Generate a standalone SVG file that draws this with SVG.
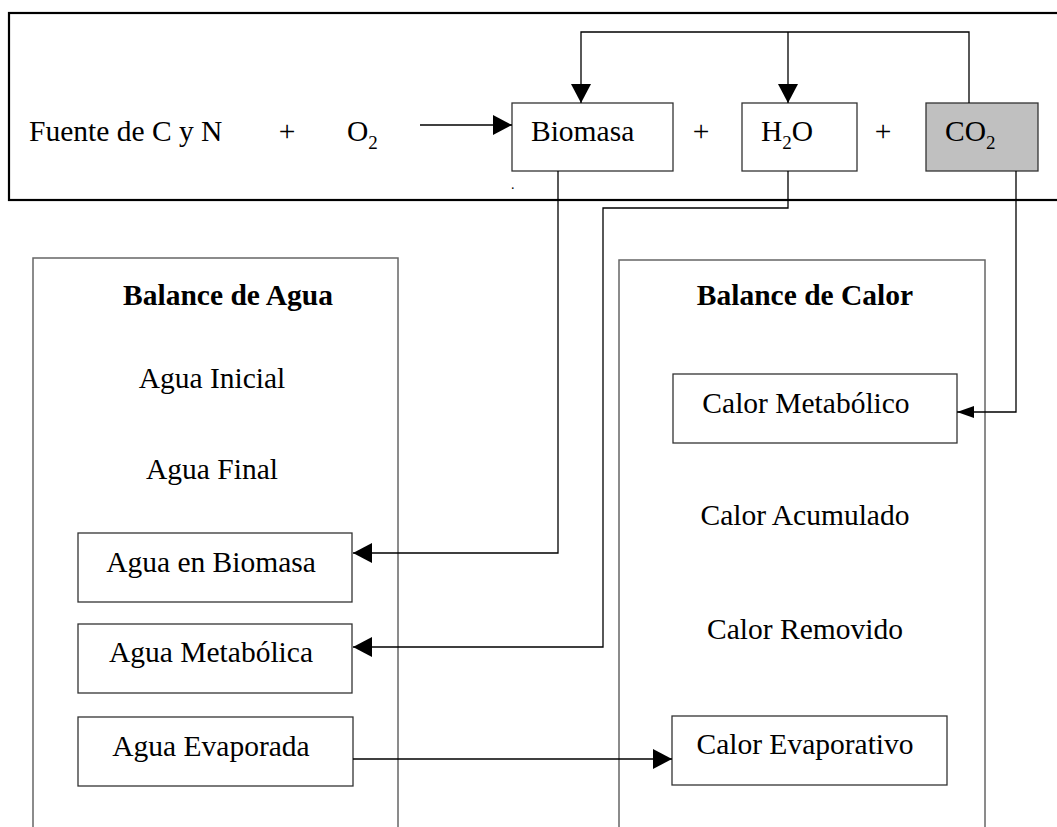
<svg xmlns="http://www.w3.org/2000/svg" width="1057" height="827" viewBox="0 0 1057 827">
  <style>
    text { font-family: "Liberation Serif", "Times New Roman", serif; font-size: 29.5px; fill: #000; }
    .sub { font-size: 19px; }
    .title { font-weight: bold; }
    .mid { text-anchor: middle; }
    .box { fill: #fff; stroke: #333; stroke-width: 1.3; }
    .gray { fill: #c0c0c0; }
    .panel { fill: none; stroke: #666; stroke-width: 1.5; }
    .frame { fill: none; stroke: #000; stroke-width: 2.2; }
    .link { fill: none; stroke: #000; stroke-width: 1.3; }
  </style>
  <defs>
    <marker id="arrow" markerUnits="userSpaceOnUse" markerWidth="20" markerHeight="20" refX="19" refY="10" orient="auto">
      <path d="M0,0 L19,10 L0,20 Z" fill="#000"/>
    </marker>
    <marker id="arrow-small" markerUnits="userSpaceOnUse" markerWidth="17" markerHeight="12" refX="17" refY="6" orient="auto">
      <path d="M0,0 L17,6 L0,12 Z" fill="#000"/>
    </marker>
  </defs>

  <!-- reaction frame -->
  <g id="reaction">
    <rect class="frame" x="9" y="13" width="1070" height="187"/>
    <text x="29" y="141">Fuente de C y N</text>
    <text class="mid" x="287" y="141">+</text>
    <text x="347" y="141">O<tspan class="sub" dy="8">2</tspan></text>
    <text class="mid" x="701" y="141">+</text>
    <text class="mid" x="883" y="141">+</text>
    <text x="511" y="189" style="font-size:14px">.</text>
  </g>

  <g id="biomasa">
    <rect class="box" x="512" y="103" width="161" height="68"/>
    <text x="531" y="141">Biomasa</text>
  </g>

  <g id="agua">
    <rect class="box" x="742" y="103" width="115" height="68"/>
    <text x="761" y="141">H<tspan class="sub" dy="8">2</tspan><tspan dy="-8">O</tspan></text>
  </g>

  <g id="co2">
    <rect class="box gray" x="926" y="103" width="112" height="68"/>
    <text x="945" y="141">CO<tspan class="sub" dy="8">2</tspan></text>
  </g>

  <!-- water balance panel -->
  <g id="balance-agua">
    <rect class="panel" x="33" y="258" width="365" height="600"/>
    <text class="title mid" x="228" y="305">Balance de Agua</text>
    <text class="mid" x="212" y="388">Agua Inicial</text>
    <text class="mid" x="212" y="479">Agua Final</text>
  </g>

  <g id="agua-biomasa">
    <rect class="box" x="78" y="533" width="274" height="69"/>
    <text class="mid" x="211" y="572">Agua en Biomasa</text>
  </g>

  <g id="agua-metabolica">
    <rect class="box" x="78" y="624" width="274" height="69"/>
    <text class="mid" x="211" y="662">Agua Metabólica</text>
  </g>

  <g id="agua-evaporada">
    <rect class="box" x="78" y="717" width="275" height="69"/>
    <text class="mid" x="211" y="756">Agua Evaporada</text>
  </g>

  <!-- heat balance panel -->
  <g id="balance-calor">
    <rect class="panel" x="619" y="260" width="366" height="600"/>
    <text class="title mid" x="805" y="305">Balance de Calor</text>
    <text class="mid" x="805" y="525">Calor Acumulado</text>
    <text class="mid" x="805" y="639">Calor Removido</text>
  </g>

  <g id="calor-metabolico">
    <rect class="box" x="673" y="374" width="284" height="69"/>
    <text class="mid" x="806" y="413">Calor Metabólico</text>
  </g>

  <g id="calor-evaporativo">
    <rect class="box" x="672" y="716" width="275" height="69"/>
    <text class="mid" x="805" y="754">Calor Evaporativo</text>
  </g>

  <!-- connectors -->
  <g id="connectors">
    <path class="link" d="M420,125 H512" marker-end="url(#arrow)"/>
    <path class="link" d="M969,103 V32 H581 V103" marker-end="url(#arrow)"/>
    <path class="link" d="M788,32 V103" marker-end="url(#arrow)"/>
    <path class="link" d="M558,171 V553 H353" marker-end="url(#arrow)"/>
    <path class="link" d="M788,171 V208 H603 V647 H353" marker-end="url(#arrow)"/>
    <path class="link" d="M1016,171 V412 H957" marker-end="url(#arrow-small)"/>
    <path class="link" d="M353,759 H672" marker-end="url(#arrow)"/>
  </g>
</svg>
